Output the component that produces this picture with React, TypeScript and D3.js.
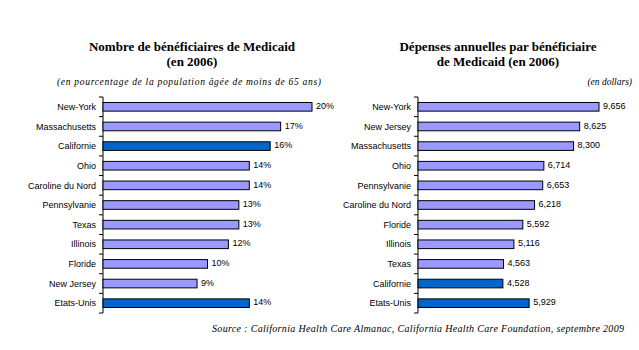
import React from 'react';
import * as d3 from 'd3';

// Left panel: share of population under 65 covered by Medicaid (2006)
const statesLeft = ['New-York', 'Massachusetts', 'Californie', 'Ohio', 'Caroline du Nord', 'Pennsylvanie', 'Texas', 'Illinois', 'Floride', 'New Jersey', 'Etats-Unis'];
const valuesLeft = [20, 17, 16, 14, 14, 13, 13, 12, 10, 9, 14];

// Right panel: annual spending per beneficiary (dollars)
const statesRight = ['New-York', 'New Jersey', 'Massachusetts', 'Ohio', 'Pennsylvanie', 'Caroline du Nord', 'Floride', 'Illinois', 'Texas', 'Californie', 'Etats-Unis'];
const valuesRight = [9656, 8625, 8300, 6714, 6653, 6218, 5592, 5116, 4563, 4528, 5929];

const highlighted = ['Californie', 'Etats-Unis'];

const W = 639;
const H = 350;
const LIGHT = '#9999FF';
const DARK = '#0066CC';
const sans = 'Arial, "Liberation Sans", sans-serif';
const serif = '"Times New Roman", "Liberation Serif", serif';

type PanelProps = {
  cats: string[];
  vals: number[];
  x0: number;
  xScale: d3.ScaleLinear<number, number>;
  fmt: (v: number) => string;
};

function Panel({ cats, vals, x0, xScale, fmt }: PanelProps) {
  const y = d3.scaleBand<string>()
    .domain(cats)
    .range([97, 313])
    .paddingInner(0.56)
    .paddingOuter(0.28);
  const step = y.step();
  // tick marks sit on the category boundaries
  const ticks = d3.range(cats.length + 1).map(i => 97 + i * step);

  return (
    <g>
      <line x1={x0} x2={x0} y1={97} y2={313} stroke="#000" strokeWidth={1} />
      {ticks.map((t, i) => (
        <line key={i} x1={x0 - 4} x2={x0} y1={t} y2={t} stroke="#000" strokeWidth={1} />
      ))}
      {cats.map((c, i) => {
        const yy = y(c)!;
        return (
          <g key={c}>
            <rect
              x={x0}
              y={yy}
              width={xScale(vals[i]) - x0}
              height={y.bandwidth()}
              fill={highlighted.includes(c) ? DARK : LIGHT}
              stroke="#000"
              strokeWidth={1}
            />
            <text x={x0 - 7} y={yy + y.bandwidth() / 2} dy="0.35em" textAnchor="end"
              fontFamily={sans} fontSize={9} fill="#000">{c}</text>
            <text x={xScale(vals[i]) + 4} y={yy + y.bandwidth() / 2 - 1} dy="0.35em"
              fontFamily={sans} fontSize={9} fill="#000">{fmt(vals[i])}</text>
          </g>
        );
      })}
    </g>
  );
}

export default function App() {
  const xLeft = d3.scaleLinear().domain([0, 20]).range([103, 312]);
  const xRight = d3.scaleLinear().domain([0, 9656]).range([418, 599]);
  const fmtComma = d3.format(',');

  return (
    <svg width={W} height={H} style={{ position: 'absolute', left: 0, top: 0, background: '#fff' }}>
      <rect width={W} height={H} fill="#fff" />

      {/* titles */}
      <text x={192} y={51} textAnchor="middle" fontFamily={serif} fontWeight="bold" fontSize={13}>
        Nombre de bénéficiaires de Medicaid
      </text>
      <text x={192} y={66} textAnchor="middle" fontFamily={serif} fontWeight="bold" fontSize={13}>
        (en 2006)
      </text>
      <text x={57} y={85} fontFamily={serif} fontStyle="italic" fontSize={9.5}
        textLength={264} lengthAdjust="spacing">
        (en pourcentage de la population âgée de moins de 65 ans)
      </text>

      <text x={498} y={51} textAnchor="middle" fontFamily={serif} fontWeight="bold" fontSize={13}>
        Dépenses annuelles par bénéficiaire
      </text>
      <text x={498} y={66} textAnchor="middle" fontFamily={serif} fontWeight="bold" fontSize={13}>
        de Medicaid (en 2006)
      </text>
      <text x={632} y={85} textAnchor="end" fontFamily={serif} fontStyle="italic" fontSize={9.5}>
        (en dollars)
      </text>

      <Panel cats={statesLeft} vals={valuesLeft} x0={103} xScale={xLeft} fmt={v => `${v}%`} />
      <Panel cats={statesRight} vals={valuesRight} x0={418} xScale={xRight} fmt={fmtComma} />

      <text x={212} y={332} fontFamily={serif} fontStyle="italic" fontSize={10}
        textLength={412} lengthAdjust="spacing">
        Source : California Health Care Almanac, California Health Care Foundation, septembre 2009
      </text>
    </svg>
  );
}
